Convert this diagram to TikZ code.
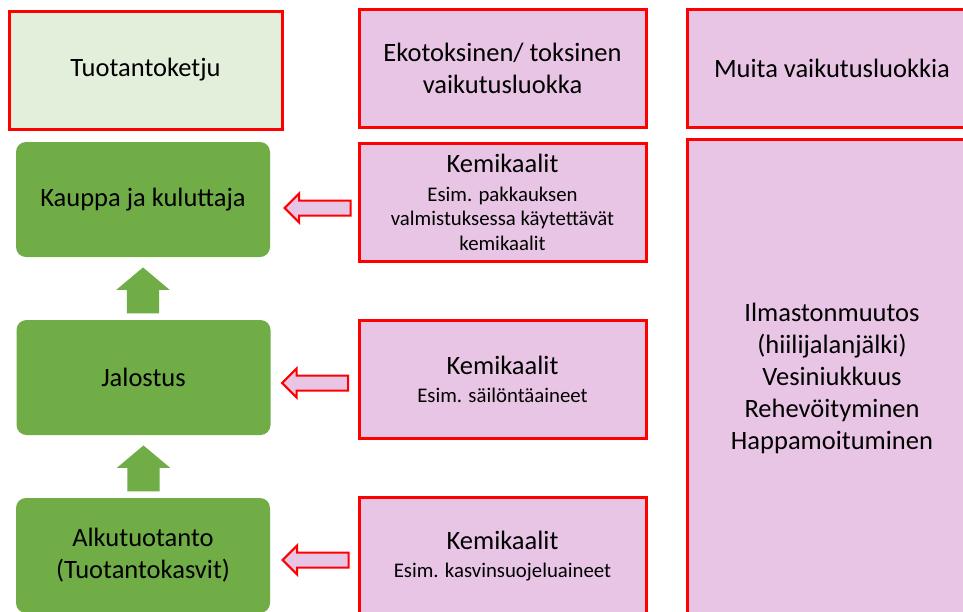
\documentclass[tikz,border=0pt]{standalone}
\usepackage{fontspec}
\setmainfont{Carlito}
\usepackage{xcolor}
\usetikzlibrary{calc,shapes.arrows}

\definecolor{vihrea}{HTML}{70AD47}
\definecolor{vaaleavihrea}{HTML}{E2EFDA}
\definecolor{roosa}{HTML}{E8C5E4}
\definecolor{punainen}{HTML}{FF0000}

\newcommand{\iso}{\fontsize{26.5}{32}\selectfont}
\newcommand{\pieni}{\fontsize{20.8}{24.5}\selectfont}
\tikzset{
  otsikko/.style={draw=punainen, line width=3pt, fill=roosa, minimum width=287pt, minimum height=118pt, align=center, font=\iso},
  vaihe/.style={fill=vihrea, rounded corners=10pt, minimum width=254pt, minimum height=115pt, align=center, font=\iso},
  kemia/.style={draw=punainen, line width=3pt, fill=roosa, minimum width=287pt, minimum height=118pt, align=center, font=\pieni},
  vasennuoli/.style={single arrow, shape border rotate=180, draw=punainen, line width=2pt, fill=roosa, inner sep=6.5pt, single arrow head extend=7pt, minimum height=66pt, minimum width=0pt, anchor=tip},
  ylosnuoli/.style={single arrow, shape border rotate=90, fill=vihrea, inner sep=16pt, single arrow head extend=10.5pt, single arrow tip angle=100, minimum height=44pt, minimum width=0pt, anchor=tip}
}

\begin{document}
\begin{tikzpicture}[x=1pt,y=-1pt]
\clip (0,0) rectangle (963,611);
\fill[white] (0,0) rectangle (963,611);

\node[otsikko, fill=vaaleavihrea, minimum width=273pt] (ketju) at (145.5,70) {Tuotantoketju};
\node[otsikko] (eko) at (502.5,68) {Ekotoksinen/ toksinen\\vaikutusluokka};
\node[otsikko, minimum width=290pt] (muita) at (832,68) {Muita vaikutusluokkia};
\node[otsikko, minimum width=290pt, minimum height=478pt] (muut) at (832,378) {Ilmastonmuutos\\(hiilijalanjälki)\\Vesiniukkuus\\Rehevöityminen\\Happamoituminen};

\node[vaihe] (kauppa) at (143,199.5) {Kauppa ja kuluttaja};
\node[vaihe] (jalostus) at (143.5,377.5) {Jalostus};
\node[vaihe] (alku) at (143,555.5) {Alkutuotanto\\(Tuotantokasvit)};

\node[kemia] (kem1) at (502.5,202) {{\iso Kemikaalit}\\[4.5pt]Esim. pakkauksen\\valmistuksessa käytettävät\\kemikaalit};
\node[kemia] (kem2) at (502.5,379) {{\iso Kemikaalit}\\[3.5pt]Esim. säilöntäaineet};
\node[kemia] (kem3) at (502.5,556) {{\iso Kemikaalit}\\[3.5pt]Esim. kasvinsuojeluaineet};

% nuolet
\node[vasennuoli] (n1) at ($(kauppa.east)+(13,8.5)$) {};
\node[vasennuoli] (n2) at ($(jalostus.east)+(10,5.5)$) {};
\node[vasennuoli] (n3) at ($(alku.east)+(11,4.5)$) {};

\node[ylosnuoli] (y1) at ($(kauppa.south)+(0,10)$) {};
\node[ylosnuoli] (y2) at ($(jalostus.south)+(0,10)$) {};
\end{tikzpicture}
\end{document}
